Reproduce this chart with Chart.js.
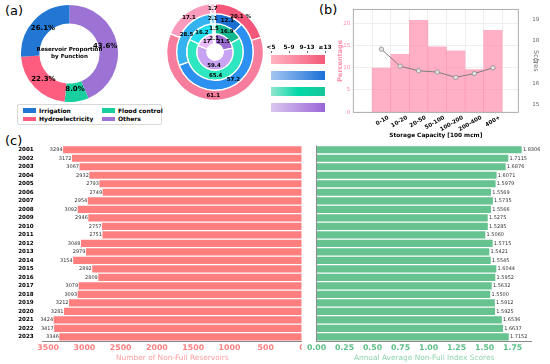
<!DOCTYPE html>
<html>
<head>
<meta charset="utf-8">
<script src="https://cdn.jsdelivr.net/npm/chart.js@4.4.0/dist/chart.umd.min.js"></script>
<style>
  body { margin: 0; width: 550px; height: 364px; position: relative; overflow: hidden; background: #fff; font-family: "DejaVu Sans", sans-serif; }
  canvas { position: absolute; }
  .tag { position: absolute; font-size: 13px; color: #000; }
  .abs { position: absolute; }
</style>
</head>
<body>
<div class="tag" style="left:5px;top:3px">(a)</div>
<div class="tag" style="left:319px;top:2px">(b)</div>
<div class="tag" style="left:5px;top:133px">(c)</div>

<canvas id="donutA" width="97" height="97" style="left:21px;top:5px"></canvas>
<canvas id="donutB" width="98" height="98" style="left:166px;top:3px"></canvas>
<div id="legendA" class="abs" style="left:17px;top:104px;width:143px;height:19px;border:1px solid #d8d8d8;border-radius:2px"></div>
<div id="legendB" class="abs" style="left:0;top:0;width:1px;height:1px"></div>
<canvas id="capChart" width="250" height="142" style="left:300px;top:0"></canvas>
<canvas id="countChart" width="302" height="224" style="left:0;top:140px"></canvas>
<canvas id="scoreChart" width="248" height="224" style="left:302px;top:140px"></canvas>

<script>
// (a) reservoir functions, in drawing order (clockwise from top)
const funcLabels = ["Others", "Flood control", "Hydroelectricity", "Irrigation"];
const funcShares = [43.6, 8.0, 22.3, 26.1];
const funcColors = ["#9c72d4", "#18cfa0", "#ff5d80", "#2177d3"];
const legendOrder = ["Irrigation", "Flood control", "Hydroelectricity", "Others"];

// (a) nested rings: share of each score class per function
const classes = ["<5", "5\u20139", "9\u201313", "\u226513"];
const hydroShares = [1.7, 17.1, 61.1, 20.1];
const irrigShares = [2.1, 28.5, 57.2, 12.1];
const floodShares = [1.5, 16.2, 65.4, 16.9];
const otherShares = [2.1, 17, 59.4, 21.5];
const hydroColors = ["#fcc9dc", "#f99bbd", "#f77d9c", "#f5577a"];
const irrigColors = ["#98d6f6", "#35b2f0", "#2b90ef", "#1b6fd0"];
const floodColors = ["#a6f0ee", "#22dcef", "#2ee6bf", "#15b990"];
const otherColors = ["#f3dcfa", "#e8b8f6", "#c7a3f2", "#9a6cd0"];
const gradients = [["#ffb3c3", "#f55a78"], ["#a4c6f1", "#1a6fd8"], ["#93e6d0", "#04d8a8", "#18c699"], ["#dac7f1", "#9a66d8"]];

// (b) storage capacity classes
const capLabels = ["0-10", "10-20", "20-50", "50-100", "100-200", "200-400", "400+"];
const pctValues = [9.9, 13.0, 20.6, 14.7, 13.8, 9.6, 18.4];
const scoreValues = [17.60, 16.80, 16.58, 16.52, 16.27, 16.45, 16.72];

// (c) yearly series
const years = ["2001","2002","2003","2004","2005","2006","2007","2008","2009","2010","2011","2012",
  "2013","2014","2015","2016","2017","2018","2019","2020","2021","2022","2023"];
const nonFullCounts = [3294, 3172, 3067, 2932, 2793, 2749, 2954, 3092, 2946, 2757, 2751, 3048,
  2979, 3154, 2892, 2809, 3079, 3093, 3212, 3281, 3424, 3417, 3346];
const indexScores = [1.8306, 1.7115, 1.6876, 1.6071, 1.5979, 1.5569, 1.5735, 1.5566, 1.5275, 1.5285, 1.5060, 1.5715,
  1.5421, 1.5545, 1.6044, 1.5952, 1.5632, 1.5500, 1.5912, 1.5925, 1.6536, 1.6637, 1.7152];

const countTicks = [0, 500, 1000, 1500, 2000, 2500, 3000, 3500];
const scoreTicks = [0, 0.25, 0.5, 0.75, 1.0, 1.25, 1.5, 1.75];
const pctTicks = [0, 5, 10, 15, 20];
const scoreAxisTicks = [15, 16, 17, 18, 19];

Chart.defaults.font.family = "'DejaVu Sans', sans-serif";
Chart.defaults.animation = false;
Chart.defaults.responsive = false;
Chart.defaults.plugins.legend.display = false;
Chart.defaults.plugins.tooltip.enabled = false;

const setTicks = vals => scale => { scale.ticks = vals.map(v => ({ value: v })); };

// --- donut (a)
const donutLabels = {
  id: "donutLabels",
  afterDatasetsDraw(chart) {
    const ctx = chart.ctx;
    const arcs = chart.getDatasetMeta(0).data;
    ctx.save();
    ctx.fillStyle = "#000";
    ctx.textAlign = "center";
    ctx.textBaseline = "middle";
    ctx.font = "bold 7px 'DejaVu Sans'";
    arcs.forEach((a, i) => {
      const mid = (a.startAngle + a.endAngle) / 2;
      const r = a.outerRadius * 0.75;
      ctx.fillText(funcShares[i].toFixed(1) + "%", a.x + Math.cos(mid) * r, a.y + Math.sin(mid) * r);
    });
    ctx.font = "bold 5.6px 'DejaVu Sans'";
    ctx.fillText("Reservoir Proportion", arcs[0].x, arcs[0].y - 3.5);
    ctx.fillText("by Function", arcs[0].x, arcs[0].y + 3.5);
    ctx.restore();
  }
};

new Chart(document.getElementById("donutA"), {
  type: "doughnut",
  data: {
    labels: funcLabels,
    datasets: [{ data: funcShares, backgroundColor: funcColors, borderWidth: 0, hoverOffset: 0 }]
  },
  options: { cutout: "62%" },
  plugins: [donutLabels]
});

// legend (a)
const legendA = document.getElementById("legendA");
legendOrder.forEach((name, k) => {
  const col = k % 2, row = Math.floor(k / 2);
  const item = document.createElement("div");
  item.className = "abs";
  item.style.cssText = `left:${5 + col * 79}px;top:${1.5 + row * 8.5}px;font:bold 6px 'DejaVu Sans';line-height:8px;white-space:nowrap`;
  item.innerHTML = `<span style="display:inline-block;width:13px;height:4.5px;background:${funcColors[funcLabels.indexOf(name)]};margin-right:3px;vertical-align:0px"></span>${name}`;
  legendA.appendChild(item);
});

// --- nested rings
const ringLabels = {
  id: "ringLabels",
  afterDatasetsDraw(chart) {
    const ctx = chart.ctx;
    ctx.save();
    ctx.fillStyle = "#000";
    ctx.textAlign = "center";
    ctx.textBaseline = "middle";
    ctx.font = "bold 5.4px 'DejaVu Sans'";
    chart.data.datasets.forEach((ds, d) => {
      chart.getDatasetMeta(d).data.forEach((a, i) => {
        const p = a.getCenterPoint();
        let txt = String(ds.data[i]);
        if (d === 0 && i === 0) txt += " %";
        ctx.fillText(txt, p.x, p.y);
      });
    });
    ctx.restore();
  }
};

const ring = (vals, cols) => ({
  data: vals.slice().reverse(),
  backgroundColor: cols.slice().reverse(),
  borderColor: "#fff",
  borderWidth: 1.3,
  hoverOffset: 0
});

new Chart(document.getElementById("donutB"), {
  type: "doughnut",
  data: {
    labels: classes.slice().reverse(),
    datasets: [ring(hydroShares, hydroColors), ring(irrigShares, irrigColors), ring(floodShares, floodColors), ring(otherShares, otherColors)]
  },
  options: { cutout: "17%" },
  plugins: [ringLabels]
});

// gradient key
const legendB = document.getElementById("legendB");
classes.forEach((c, k) => {
  const x = 271 + k * 18;
  const lab = document.createElement("div");
  lab.className = "abs";
  lab.style.cssText = `left:${x - 10}px;top:44px;width:20px;text-align:center;font:bold 5.8px 'DejaVu Sans';line-height:7px`;
  lab.textContent = c;
  legendB.appendChild(lab);
  const tk = document.createElement("div");
  tk.className = "abs";
  tk.style.cssText = `left:${x}px;top:51px;width:1px;height:2px;background:#666`;
  legendB.appendChild(tk);
});
gradients.forEach((g, k) => {
  const bar = document.createElement("div");
  bar.className = "abs";
  bar.style.left = "271px";
  bar.style.top = (54.5 + k * 16) + "px";
  bar.style.width = "54px";
  bar.style.height = "9px";
  bar.style.backgroundImage = "linear-gradient(to right, " + g.join(", ") + ")";
  legendB.appendChild(bar);
});

// --- (b) capacity chart
const frame = {
  id: "frame",
  afterDraw(chart) {
    const { left, top, right, bottom } = chart.chartArea;
    const ctx = chart.ctx;
    ctx.save();
    ctx.strokeStyle = "#9a9a9a";
    ctx.lineWidth = 0.8;
    ctx.strokeRect(left, top, right - left, bottom - top);
    ctx.restore();
  }
};

new Chart(document.getElementById("capChart"), {
  type: "bar",
  data: {
    datasets: [
      {
        type: "line",
        data: scoreValues.map((v, i) => ({ x: i, y: v })),
        yAxisID: "y1",
        borderColor: "#7c7c7c",
        borderWidth: 1,
        pointRadius: 2.2,
        pointBackgroundColor: "#e4e4e4",
        pointBorderColor: "#8c8c8c",
        pointBorderWidth: 0.8,
        order: 0
      },
      {
        data: pctValues.map((v, i) => ({ x: i, y: v })),
        yAxisID: "y",
        backgroundColor: "rgba(255,146,176,0.72)",
        barPercentage: 1,
        categoryPercentage: 1,
        order: 1
      }
    ]
  },
  options: {
    layout: { padding: { top: 5, left: 36, right: 9, bottom: 0 } },
    scales: {
      x: {
        type: "linear", min: -0.88, max: 6.73,
        afterBuildTicks: setTicks(capLabels.map((c, i) => i)),
        afterFit: s => { s.height = 29.7; },
        grid: { color: "#eeeeee", drawTicks: false },
        border: { display: false },
        ticks: { callback: v => capLabels[v], autoSkip: false, minRotation: 30, maxRotation: 30, color: "#000", font: { size: 5.6, weight: "bold" }, padding: 2, labelOffset: 7 },
        title: { display: true, text: "Storage Capacity [100 mcm]", color: "#000", font: { size: 5.8, weight: "bold" }, padding: { top: 0, bottom: 3 } }
      },
      y: {
        position: "left", min: 0, max: 23.08,
        afterBuildTicks: setTicks(pctTicks),
        afterFit: s => { s.width = 17.3; },
        grid: { color: "#eeeeee", drawTicks: false },
        border: { display: false },
        ticks: { color: "#ff8fab", font: { size: 5.6 }, padding: 3 },
        title: { display: true, text: "Percentage", color: "#ff8fab", font: { size: 6.5, weight: "bold" }, padding: { top: 0, bottom: 1 } }
      },
      y1: {
        position: "right", min: 14.62, max: 19.48,
        afterBuildTicks: setTicks(scoreAxisTicks),
        afterFit: s => { s.width = 22.7; },
        grid: { display: false },
        border: { display: false },
        ticks: { color: "#666", font: { size: 5.6 }, padding: 6 },
        title: { display: true, text: "Scores", color: "#777", font: { size: 6.5 }, padding: { top: 1, bottom: 0 } }
      }
    }
  },
  plugins: [frame]
});

// --- (c) yearly bars
const barValues = {
  id: "barValues",
  afterDatasetsDraw(chart, args, opts) {
    const ctx = chart.ctx;
    const vals = chart.data.datasets[0].data;
    ctx.save();
    ctx.fillStyle = "#333";
    ctx.font = "5px 'DejaVu Sans'";
    ctx.textBaseline = "middle";
    chart.getDatasetMeta(0).data.forEach((bar, i) => {
      if (opts.side === "left") {
        ctx.textAlign = "right";
        ctx.fillText(String(vals[i]), bar.x - 0.5, bar.y);
      } else {
        ctx.textAlign = "left";
        ctx.fillText(vals[i].toFixed(opts.decimals), bar.x + 1.2, bar.y);
      }
    });
    ctx.restore();
  }
};

const zeroLine = c => (c.tick && c.tick.value === 0 ? "#8a8a8a" : "rgba(0,0,0,0)");

new Chart(document.getElementById("countChart"), {
  type: "bar",
  data: { labels: years, datasets: [{ data: nonFullCounts, backgroundColor: "#ff7f7f", barPercentage: 0.84, categoryPercentage: 1 }] },
  options: {
    indexAxis: "y",
    layout: { padding: { top: 5.5, left: 0, right: 0, bottom: 0 } },
    plugins: { barValues: { side: "left" } },
    scales: {
      x: {
        reverse: true, min: 0, max: 3575,
        afterBuildTicks: setTicks(countTicks),
        afterFit: s => { s.height = 22.8; },
        grid: { color: zeroLine, drawTicks: false, lineWidth: 1 },
        border: { color: "#8a8a8a" },
        ticks: { callback: v => String(v), color: "#ff8080", font: { size: 7.8, weight: "bold" }, padding: 2 },
        title: { display: true, text: "Number of Non-Full Reservoirs", color: "#ff9e9e", font: { size: 7.4 }, padding: { top: 0, bottom: 1 } }
      },
      y: {
        afterFit: s => { s.width = 42.7; },
        grid: { display: false },
        border: { display: false },
        ticks: { autoSkip: false, color: "#000", font: { size: 5.6, weight: "bold" }, padding: 1 }
      }
    }
  },
  plugins: [barValues]
});

new Chart(document.getElementById("scoreChart"), {
  type: "bar",
  data: { labels: years, datasets: [{ data: indexScores, backgroundColor: "#66c28e", barPercentage: 0.84, categoryPercentage: 1 }] },
  options: {
    indexAxis: "y",
    layout: { padding: { top: 5.5, left: 0, right: 18.3, bottom: 0 } },
    plugins: { barValues: { side: "right", decimals: 4 } },
    scales: {
      x: {
        min: 0, max: 1.92,
        afterBuildTicks: setTicks(scoreTicks),
        afterFit: s => { s.height = 22.8; },
        grid: { color: zeroLine, drawTicks: false },
        border: { color: "#8a8a8a" },
        ticks: { callback: v => v.toFixed(2), color: "#5cbf87", font: { size: 7.8, weight: "bold" }, padding: 2 },
        title: { display: true, text: "Annual Average Non-Full Index Scores", color: "#8fd3ad", font: { size: 7.4 }, padding: { top: 0, bottom: 1 } }
      },
      y: {
        afterFit: s => { s.width = 14.5; },
        grid: { display: false },
        border: { display: false },
        ticks: { display: false }
      }
    }
  },
  plugins: [barValues]
});
</script>
</body>
</html>
